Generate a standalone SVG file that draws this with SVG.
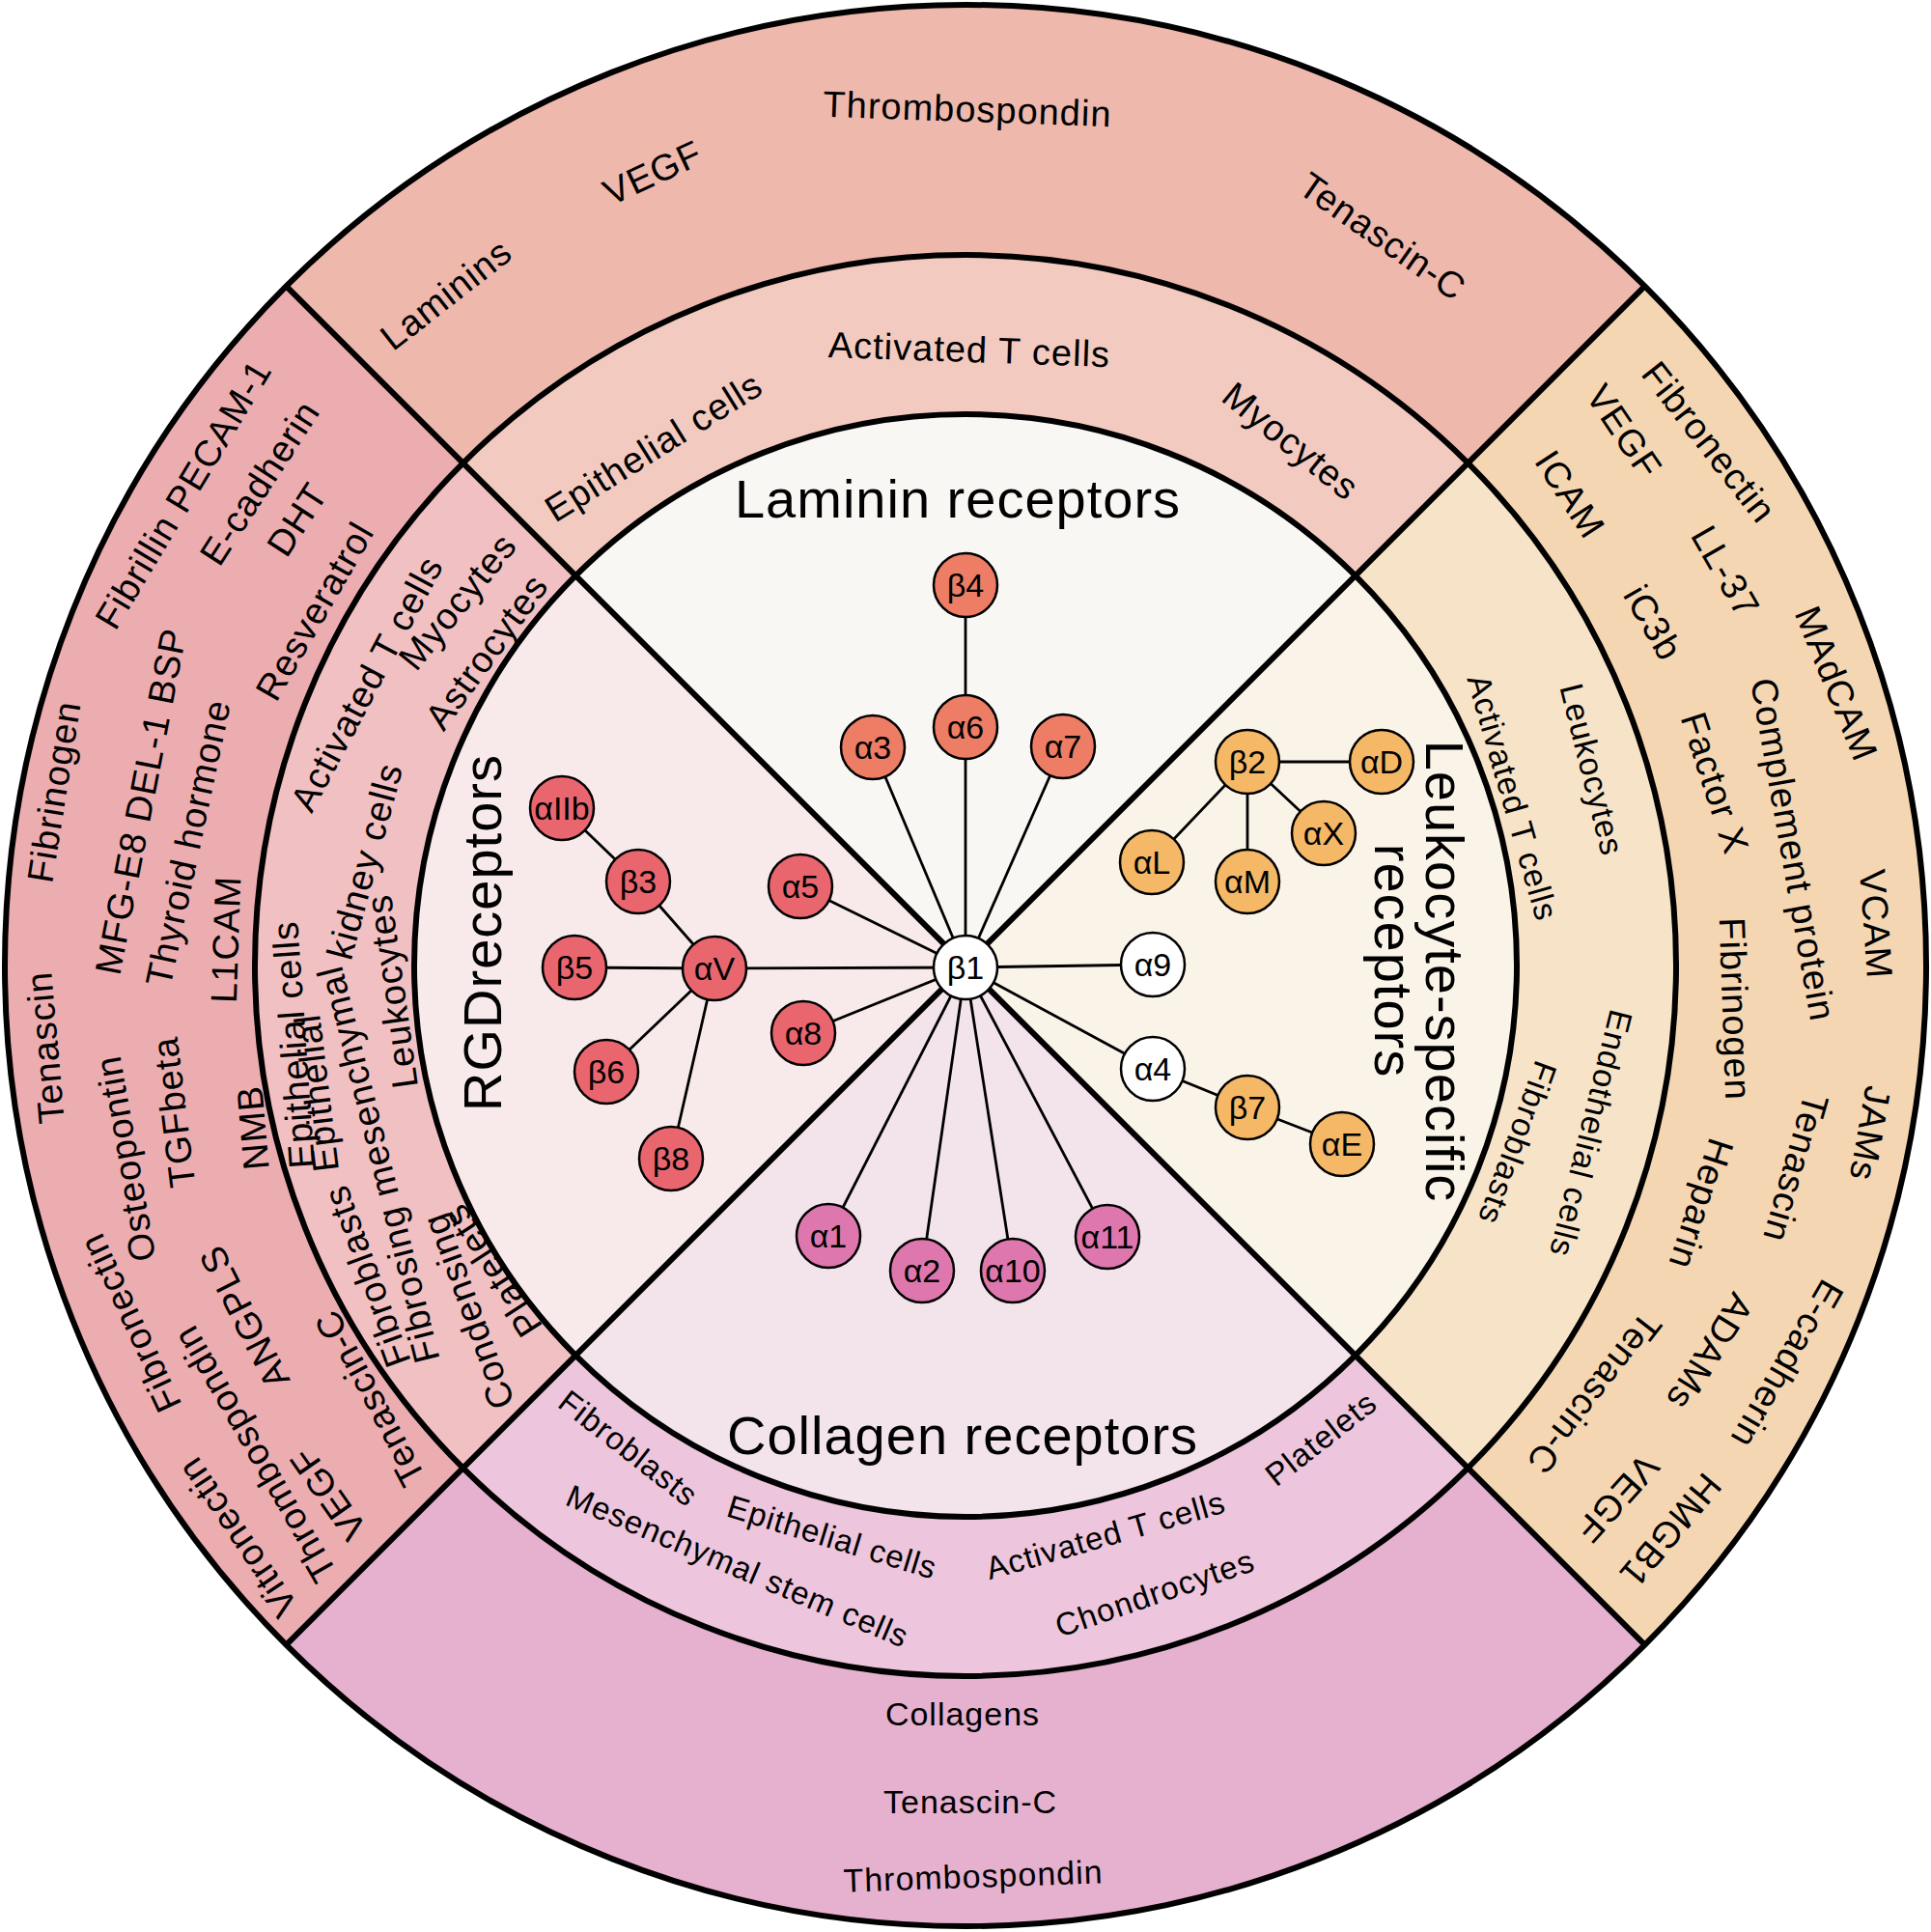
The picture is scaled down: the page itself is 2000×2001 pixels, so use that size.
<svg xmlns="http://www.w3.org/2000/svg" width="2000" height="2001" viewBox="0 0 2000 2001">
<style>
text{font-family:"Liberation Sans",Arial,sans-serif;text-anchor:middle;dominant-baseline:central;fill:#000;letter-spacing:1px}
.o{font-size:38px}.m{font-size:38px}.mr{font-size:34px}.mb{font-size:33px}.ob{font-size:34px}
.t{font-size:56px;letter-spacing:1px}
.n{font-size:34px;letter-spacing:0}
.ring{fill:none;stroke:#000;stroke-width:6}
.edge{stroke:#000;stroke-width:2.8}
.node circle{stroke:#000;stroke-width:2.5}
.lam{fill:#EE7D66}.rgd{fill:#E9666F}.col{fill:#DE77AE}.leu{fill:#F5B866}.wht{fill:#fff}
</style>
<rect width="2000" height="2001" fill="#fff"/>
<g id="sectors">
<path fill="#EEB8AD" d="M296.43,296.43 A995,995 0 0 1 1703.57,296.43 L1520.43,479.57 A736,736 0 0 0 479.57,479.57 Z"/>
<path fill="#F5D6B2" d="M1703.57,296.43 A995,995 0 0 1 1703.57,1703.57 L1520.43,1520.43 A736,736 0 0 0 1520.43,479.57 Z"/>
<path fill="#E6B0CF" d="M1703.57,1703.57 A995,995 0 0 1 296.43,1703.57 L479.57,1520.43 A736,736 0 0 0 1520.43,1520.43 Z"/>
<path fill="#ECADB0" d="M296.43,1703.57 A995,995 0 0 1 296.43,296.43 L479.57,479.57 A736,736 0 0 0 479.57,1520.43 Z"/>
<path fill="#F2CAC0" d="M479.57,479.57 A736,736 0 0 1 1520.43,479.57 L1403.76,596.24 A571,571 0 0 0 596.24,596.24 Z"/>
<path fill="#F7E4C8" d="M1520.43,479.57 A736,736 0 0 1 1520.43,1520.43 L1403.76,1403.76 A571,571 0 0 0 1403.76,596.24 Z"/>
<path fill="#EDC5DC" d="M1520.43,1520.43 A736,736 0 0 1 479.57,1520.43 L596.24,1403.76 A571,571 0 0 0 1403.76,1403.76 Z"/>
<path fill="#F1C0C2" d="M479.57,1520.43 A736,736 0 0 1 479.57,479.57 L596.24,596.24 A571,571 0 0 0 596.24,1403.76 Z"/>
<path fill="#F9F7F3" d="M1000,1000 L596.24,596.24 A571,571 0 0 1 1403.76,596.24 Z"/>
<path fill="#FAF3E8" d="M1000,1000 L1403.76,596.24 A571,571 0 0 1 1403.76,1403.76 Z"/>
<path fill="#F3E3EB" d="M1000,1000 L1403.76,1403.76 A571,571 0 0 1 596.24,1403.76 Z"/>
<path fill="#F8EAEA" d="M1000,1000 L596.24,1403.76 A571,571 0 0 1 596.24,596.24 Z"/>
<circle class="ring" cx="1000" cy="1000" r="995"/>
<circle class="ring" cx="1000" cy="1000" r="736"/>
<circle class="ring" cx="1000" cy="1000" r="571"/>
<line class="ring" x1="296.43" y1="296.43" x2="1703.57" y2="1703.57"/>
<line class="ring" x1="1703.57" y1="296.43" x2="296.43" y2="1703.57"/>
</g>
<g id="labels-top">
<text class="o" transform="translate(462,305) rotate(-38)">Laminins</text>
<text class="o" transform="translate(676,179) rotate(-25)">VEGF</text>
<text class="o" transform="translate(1002,113) rotate(2)">Thrombospondin</text>
<text class="o" transform="translate(1432,245) rotate(35)">Tenascin-C</text>
<text class="m" transform="translate(677,463) rotate(-32)">Epithelial cells</text>
<text class="m" transform="translate(1004,362) rotate(2)">Activated T cells</text>
<text class="m" transform="translate(1337,457) rotate(39)">Myocytes</text>
<text class="t" transform="translate(992,516)">Laminin receptors</text>
</g>
<g id="labels-right">
<text class="o" transform="translate(1770,458) rotate(52)">Fibronectin</text>
<text class="o" transform="translate(1682,447) rotate(56)">VEGF</text>
<text class="o" transform="translate(1626,512) rotate(57)">ICAM</text>
<text class="o" transform="translate(1787,592) rotate(60)">LL-37</text>
<text class="o" transform="translate(1712,645) rotate(60)">iC3b</text>
<text class="o" transform="translate(1902,708) rotate(68)">MAdCAM</text>
<text class="o" transform="translate(1857,880) rotate(80)">Complement protein</text>
<text class="o" transform="translate(1776,811) rotate(72)">Factor X</text>
<text class="o" transform="translate(1943,957) rotate(86)">VCAM</text>
<text class="o" transform="translate(1797,1045) rotate(88)">Fibrinogen</text>
<text class="o" transform="translate(1937,1174) rotate(100)">JAMs</text>
<text class="o" transform="translate(1860,1210) rotate(106)">Tenascin</text>
<text class="o" transform="translate(1762,1247) rotate(108)">Heparin</text>
<text class="o" transform="translate(1851,1413) rotate(120)">E-cadherin</text>
<text class="o" transform="translate(1771,1400) rotate(122)">ADAMs</text>
<text class="o" transform="translate(1651,1443) rotate(128)">Tenascin-C</text>
<text class="o" transform="translate(1675,1552) rotate(132)">VEGF</text>
<text class="o" transform="translate(1730,1585) rotate(130)">HMGB1</text>
<text class="mr" transform="translate(1567,826) rotate(74)">Activated T cells</text>
<text class="mr" transform="translate(1649,797) rotate(76)">Leukocytes</text>
<text class="mr" transform="translate(1648,1174) rotate(104)">Endothelial cells</text>
<text class="mr" transform="translate(1572,1184) rotate(110)">Fibroblasts</text>
<text class="t" transform="translate(1496,1006) rotate(90)">Leukocyte-specific</text>
<text class="t" transform="translate(1443,995) rotate(90)">receptors</text>
</g>
<g id="labels-bottom">
<text class="ob" transform="translate(997,1775)">Collagens</text>
<text class="ob" transform="translate(1005,1866)">Tenascin-C</text>
<text class="ob" transform="translate(1008,1943) rotate(-2)">Thrombospondin</text>
<text class="mb" transform="translate(651,1500) rotate(38)">Fibroblasts</text>
<text class="mb" transform="translate(862,1592) rotate(17)">Epithelial cells</text>
<text class="mb" transform="translate(764,1622) rotate(23)">Mesenchymal stem cells</text>
<text class="mb" transform="translate(1145,1590) rotate(-16)">Activated T cells</text>
<text class="mb" transform="translate(1196,1650) rotate(-19)">Chondrocytes</text>
<text class="mb" transform="translate(1368,1490) rotate(-38)">Platelets</text>
<text class="t" transform="translate(997,1486)">Collagen receptors</text>
</g>
<g id="labels-left">
<text class="o" transform="translate(190,512) rotate(-59)">Fibrillin PECAM-1</text>
<text class="o" transform="translate(269,500) rotate(-57)">E-cadherin</text>
<text class="o" transform="translate(308,538) rotate(-57)">DHT</text>
<text class="o" transform="translate(326,633) rotate(-60)">Resveratrol</text>
<text class="o" transform="translate(56,820) rotate(-81)">Fibrinogen</text>
<text class="o" transform="translate(146,830) rotate(-79)">MFG-E8 DEL-1 BSP</text>
<text class="o" transform="translate(195,873) rotate(-78)">Thyroid hormone</text>
<text class="o" transform="translate(234,973) rotate(-88)">L1CAM</text>
<text class="o" transform="translate(47,1085) rotate(-95)">Tenascin</text>
<text class="o" transform="translate(130,1200) rotate(-100)">Osteopontin</text>
<text class="o" transform="translate(180,1152) rotate(-97)">TGFbeta</text>
<text class="o" transform="translate(262,1168) rotate(-95)">NMB</text>
<text class="o" transform="translate(135,1370) rotate(-115)">Fibronectin</text>
<text class="o" transform="translate(264,1506) rotate(-120)">Thrombospondin</text>
<text class="o" transform="translate(253,1364) rotate(-117)">ANGPLS</text>
<text class="o" transform="translate(246,1592) rotate(-124)">Vitronectin</text>
<text class="o" transform="translate(340,1547) rotate(-125)">VEGF</text>
<text class="o" transform="translate(383,1448) rotate(-118)">Tenascin-C</text>
<text class="m" transform="translate(380,708) rotate(-62)">Activated T cells</text>
<text class="m" transform="translate(474,623) rotate(-51)">Myocytes</text>
<text class="m" transform="translate(504,675) rotate(-54)">Astrocytes</text>
<text class="m" transform="translate(304,1082) rotate(-94)">Epithelial cells</text>
<text class="m" transform="translate(328,1132) rotate(-97)">Epithelial</text>
<text class="m" transform="translate(378,892) rotate(-75)">kidney cells</text>
<text class="m" transform="translate(406,1027) rotate(-98)">Leukocytes</text>
<text class="m" transform="translate(392,1206) rotate(-104)">Fibrosing mesenchymal</text>
<text class="m" transform="translate(380,1322) rotate(-110)">Fibroblasts</text>
<text class="m" transform="translate(485,1358) rotate(-110)">Condensing</text>
<text class="m" transform="translate(510,1316) rotate(-123)">Platelets</text>
<text class="t" transform="translate(499,966) rotate(-90)">RGDreceptors</text>
</g>
<g id="connectors">
<line class="edge" x1="1000" y1="1002" x2="904" y2="774"/>
<line class="edge" x1="1000" y1="1002" x2="1000" y2="753"/>
<line class="edge" x1="1000" y1="753" x2="1000" y2="606"/>
<line class="edge" x1="1000" y1="1002" x2="1101" y2="773"/>
<line class="edge" x1="1000" y1="1002" x2="829" y2="918"/>
<line class="edge" x1="1000" y1="1002" x2="740" y2="1003"/>
<line class="edge" x1="1000" y1="1002" x2="832" y2="1070"/>
<line class="edge" x1="1000" y1="1002" x2="858" y2="1280"/>
<line class="edge" x1="1000" y1="1002" x2="955" y2="1316"/>
<line class="edge" x1="1000" y1="1002" x2="1049" y2="1316"/>
<line class="edge" x1="1000" y1="1002" x2="1147" y2="1281"/>
<line class="edge" x1="1000" y1="1002" x2="1194" y2="999"/>
<line class="edge" x1="1000" y1="1002" x2="1194" y2="1107"/>
<line class="edge" x1="1194" y1="1107" x2="1292" y2="1147"/>
<line class="edge" x1="1292" y1="1147" x2="1390" y2="1185"/>
<line class="edge" x1="740" y1="1003" x2="661" y2="913"/>
<line class="edge" x1="661" y1="913" x2="582" y2="837"/>
<line class="edge" x1="740" y1="1003" x2="595" y2="1002"/>
<line class="edge" x1="740" y1="1003" x2="628" y2="1110"/>
<line class="edge" x1="740" y1="1003" x2="695" y2="1200"/>
<line class="edge" x1="1292" y1="789" x2="1431" y2="789"/>
<line class="edge" x1="1292" y1="789" x2="1371" y2="863"/>
<line class="edge" x1="1292" y1="789" x2="1292" y2="913"/>
<line class="edge" x1="1292" y1="789" x2="1193" y2="893"/>
</g>
<g id="n-b4" class="node"><circle class="lam" cx="1000" cy="606" r="33"/><text class="n" x="1000" y="606">β4</text></g>
<g id="n-a6" class="node"><circle class="lam" cx="1000" cy="753" r="33"/><text class="n" x="1000" y="753">α6</text></g>
<g id="n-a3" class="node"><circle class="lam" cx="904" cy="774" r="33"/><text class="n" x="904" y="774">α3</text></g>
<g id="n-a7" class="node"><circle class="lam" cx="1101" cy="773" r="33"/><text class="n" x="1101" y="773">α7</text></g>
<g id="n-a5" class="node"><circle class="rgd" cx="829" cy="918" r="33"/><text class="n" x="829" y="918">α5</text></g>
<g id="n-aV" class="node"><circle class="rgd" cx="740" cy="1003" r="33"/><text class="n" x="740" y="1003">αV</text></g>
<g id="n-aIIb" class="node"><circle class="rgd" cx="582" cy="837" r="33"/><text class="n" x="582" y="837">αIIb</text></g>
<g id="n-b3" class="node"><circle class="rgd" cx="661" cy="913" r="33"/><text class="n" x="661" y="913">β3</text></g>
<g id="n-b5" class="node"><circle class="rgd" cx="595" cy="1002" r="33"/><text class="n" x="595" y="1002">β5</text></g>
<g id="n-b6" class="node"><circle class="rgd" cx="628" cy="1110" r="33"/><text class="n" x="628" y="1110">β6</text></g>
<g id="n-b8" class="node"><circle class="rgd" cx="695" cy="1200" r="33"/><text class="n" x="695" y="1200">β8</text></g>
<g id="n-a8" class="node"><circle class="rgd" cx="832" cy="1070" r="33"/><text class="n" x="832" y="1070">α8</text></g>
<g id="n-a1" class="node"><circle class="col" cx="858" cy="1280" r="33"/><text class="n" x="858" y="1280">α1</text></g>
<g id="n-a2" class="node"><circle class="col" cx="955" cy="1316" r="33"/><text class="n" x="955" y="1316">α2</text></g>
<g id="n-a10" class="node"><circle class="col" cx="1049" cy="1316" r="33"/><text class="n" x="1049" y="1316">α10</text></g>
<g id="n-a11" class="node"><circle class="col" cx="1147" cy="1281" r="33"/><text class="n" x="1147" y="1281">α11</text></g>
<g id="n-a9" class="node"><circle class="wht" cx="1194" cy="999" r="33"/><text class="n" x="1194" y="999">α9</text></g>
<g id="n-a4" class="node"><circle class="wht" cx="1194" cy="1107" r="33"/><text class="n" x="1194" y="1107">α4</text></g>
<g id="n-b7" class="node"><circle class="leu" cx="1292" cy="1147" r="33"/><text class="n" x="1292" y="1147">β7</text></g>
<g id="n-aE" class="node"><circle class="leu" cx="1390" cy="1185" r="33"/><text class="n" x="1390" y="1185">αE</text></g>
<g id="n-b2" class="node"><circle class="leu" cx="1292" cy="789" r="33"/><text class="n" x="1292" y="789">β2</text></g>
<g id="n-aD" class="node"><circle class="leu" cx="1431" cy="789" r="33"/><text class="n" x="1431" y="789">αD</text></g>
<g id="n-aX" class="node"><circle class="leu" cx="1371" cy="863" r="33"/><text class="n" x="1371" y="863">αX</text></g>
<g id="n-aM" class="node"><circle class="leu" cx="1292" cy="913" r="33"/><text class="n" x="1292" y="913">αM</text></g>
<g id="n-aL" class="node"><circle class="leu" cx="1193" cy="893" r="33"/><text class="n" x="1193" y="893">αL</text></g>
<g id="n-b1" class="node"><circle class="wht" cx="1000" cy="1002" r="33"/><text class="n" x="1000" y="1002">β1</text></g>
</svg>
